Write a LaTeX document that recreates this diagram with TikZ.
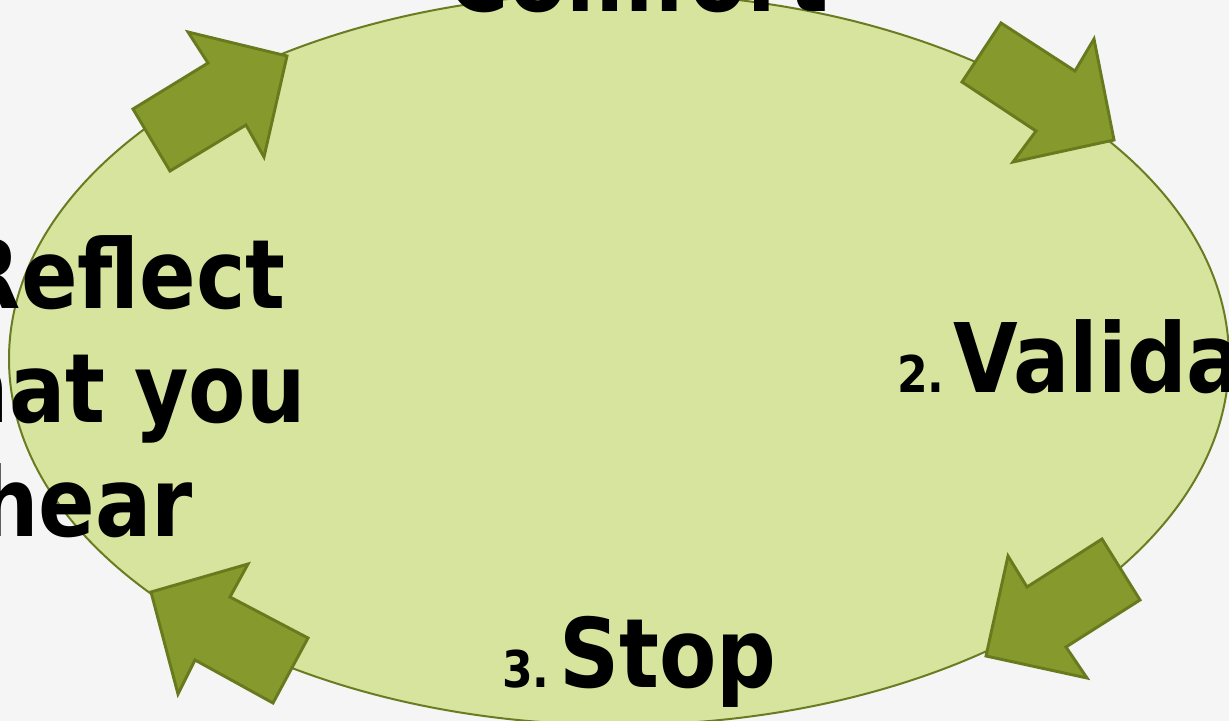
\documentclass[tikz,border=0pt]{standalone}
\usepackage{fontspec}
\newfontfamily\stepfont{DejaVu Sans}[FakeStretch=0.87]
\usepackage{tikz}

\definecolor{paper}{HTML}{F5F5F5}
\definecolor{ovalfill}{HTML}{D7E49E}
\definecolor{ovalline}{HTML}{6A7C22}
\definecolor{arrowfill}{HTML}{86992C}
\definecolor{arrowline}{HTML}{687A1E}

\begin{document}
\begin{tikzpicture}[x=0.75pt,y=0.75pt,yscale=-1,xscale=1,
    blockarrow/.style={draw=arrowline, fill=arrowfill, line width=2.2pt, line join=miter},
    steptext/.style={inner sep=0pt, font={\stepfont\bfseries\fontsize{72}{72}\selectfont}},
    stepnum/.style={inner sep=0pt, font={\stepfont\bfseries\fontsize{38}{38}\selectfont}}]
            %set diagram left start at 0, and has height of 721
            \useasboundingbox (0,0) rectangle (1229,721);
            \fill [paper] (0,0) rectangle (1229,721);
            \clip (0,0) rectangle (1229,721);
            
            %Shape: Ellipse [id:oval]
            \draw [draw=ovalline, fill=ovalfill, line width=1.5pt] (619,359) ellipse (610 and 366);
            
            %Shape: Block Arrow [id:arrow top left]
            \draw [blockarrow] (287,56) -- (264,157) -- (246,125) -- (170,171) -- (133,109) -- (208,63) -- (188,32) -- cycle ;
            %Shape: Block Arrow [id:arrow top right]
            \draw [blockarrow] (1114,140) -- (1013,162) -- (1036,131) -- (962,82) -- (1001,23) -- (1075,71) -- (1094,39) -- cycle ;
            %Shape: Block Arrow [id:arrow bottom right]
            \draw [blockarrow] (986,656) -- (1008,556) -- (1027,587) -- (1102,539) -- (1140,600) -- (1066,647) -- (1087,678) -- cycle ;
            %Shape: Block Arrow [id:arrow bottom left]
            \draw [blockarrow] (151,592) -- (248,564) -- (230,597) -- (308,638) -- (273,703) -- (195,660) -- (178,694) -- cycle ;
            
            % Text Node
            \node (comfort) [steptext, anchor=base] at (638,12) {Comfort};
            % Text Node
            \node (num2) [stepnum, anchor=base west] at (897,392) {2.};
            % Text Node
            \node (validate) [steptext, anchor=base west] at (953,392) {Validate};
            % Text Node
            \node (num3) [stepnum, anchor=base west] at (502,687) {3.};
            % Text Node
            \node (stop) [steptext, anchor=base west] at (559,687) {Stop};
            % Text Node
            \node (reflect) [steptext, anchor=base east] at (286,308) {Reflect};
            % Text Node
            \node (whatyou) [steptext, anchor=base east] at (306,422) {what you};
            % Text Node
            \node (hear) [steptext, anchor=base east] at (193,536) {hear};
            
\end{tikzpicture}
\end{document}
